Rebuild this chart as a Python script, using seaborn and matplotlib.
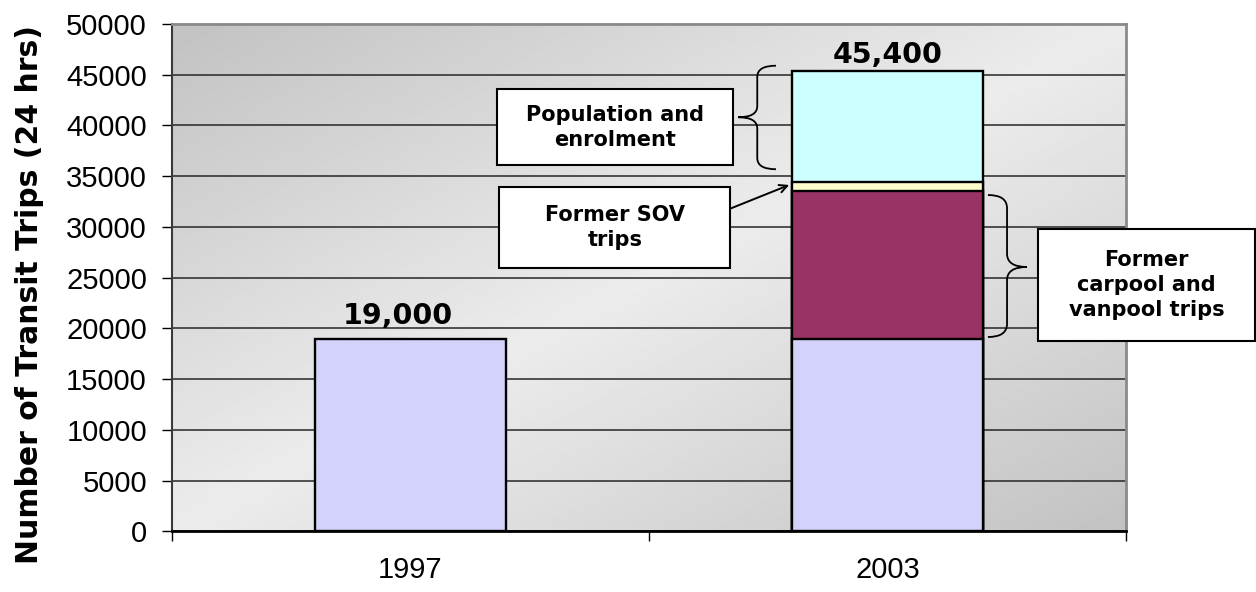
import numpy as np
import pandas as pd
import matplotlib
matplotlib.use("Agg")
import matplotlib.pyplot as plt
from matplotlib.path import Path
from matplotlib.patches import PathPatch, Rectangle
from matplotlib.ticker import FixedLocator
import seaborn as sns

# ---- data -------------------------------------------------------------
years = ["1997", "2003"]
base_trips = [19000, 19000]
carpool_vanpool = [0, 14500]
former_sov = [0, 900]
population_enrolment = [0, 11000]
y_ticks = list(range(0, 50001, 5000))

layer_values = [base_trips, carpool_vanpool, former_sov, population_enrolment]
layer_colors = ["#d2d2fa", "#993366", "#ffffcc", "#ccffff"]

# ---- style ------------------------------------------------------------
sns.set_style("white")
plt.rcParams["font.family"] = ["Liberation Sans", "DejaVu Sans"]
plt.rcParams.update({"text.color": "black", "axes.labelcolor": "black",
                     "xtick.color": "black", "ytick.color": "black"})
BOLD = ["DejaVu Sans"]

fig = plt.figure(figsize=(12.56, 5.92), dpi=100)
ax = fig.add_axes([0.1369, 0.1022, 0.7596, 0.8573])

# diagonal two-way grey gradient behind the plot
n = 400
u, v = np.meshgrid(np.linspace(0, 1, n), np.linspace(0, 1, n))
t = (u + v) / 2.0                      # 0 at top-left, 1 at bottom-right (image rows from top)
dark, light = 0.76, 0.925
shade = dark + (light - dark) * (1 - np.abs(2 * t - 1))
ax.imshow(shade, cmap="gray", vmin=0, vmax=1, extent=(-0.5, 1.5, 0, 50000),
          origin="upper", aspect="auto", interpolation="bilinear", zorder=-2)

# ---- stacked bars (cumulative tops, drawn from the top layer down) ----
cum = np.cumsum(np.array(layer_values), axis=0)
for k in reversed(range(len(layer_values))):
    keep = [i for i in range(len(years)) if k == 0 or layer_values[k][i] > 0]
    df = pd.DataFrame({"year": [years[i] for i in keep],
                       "trips": [cum[k][i] for i in keep]})
    sns.barplot(data=df, x="year", y="trips", order=years, color=layer_colors[k],
                saturation=1, width=0.4, edgecolor="black", linewidth=1.7,
                errorbar=None, ax=ax, zorder=2)

totals = cum[-1]
label_offsets = [(-9, 6.5), (0, 1)]
for i, tot in enumerate(totals):
    ax.annotate(f"{int(tot):,}", xy=(i, tot), xytext=label_offsets[i],
                textcoords="offset points", ha="center", va="bottom",
                fontsize=20.5, fontweight="bold", family=BOLD, color="black",
                zorder=6)

# ---- axes -------------------------------------------------------------
ax.set_xlim(-0.5, 1.5)
ax.set_ylim(0, 50000)
ax.set_yticks(y_ticks)
ax.set_yticklabels([str(t) for t in y_ticks])
ax.set_xticks([0, 1])
ax.set_xticklabels(years)
ax.xaxis.set_minor_locator(FixedLocator([-0.5, 0.5, 1.5]))
ax.set_xlabel("")
ax.set_ylabel("Number of Transit Trips (24 hrs)", fontsize=21.5, fontweight="bold",
              family=BOLD, color="black")
ax.yaxis.set_label_coords(-0.134, 0.466)

ax.set_axisbelow(True)
ax.yaxis.grid(True, color="#262626", linewidth=1.1)
ax.xaxis.grid(False)

ax.tick_params(axis="y", which="major", left=True, direction="out", length=7,
               width=1, color="black", labelcolor="black", labelsize=21, pad=11)
ax.tick_params(axis="x", which="major", bottom=True, length=0, labelsize=21,
               labelcolor="black", pad=18)
ax.tick_params(axis="x", which="minor", bottom=True, direction="out", length=7.5,
               width=1, color="black")

for side in ("top", "right"):
    ax.spines[side].set_color("#8a8a8a")
    ax.spines[side].set_linewidth(2)
ax.spines["left"].set_color("#3a3a3a")
ax.spines["left"].set_linewidth(1.5)
ax.spines["bottom"].set_color("black")
ax.spines["bottom"].set_linewidth(2)


# ---- callouts ---------------------------------------------------------
def brace(x_end, x_mid, x_tip, y_top, y_bot, y_tip, r):
    """Curly brace: x in axes fraction, y in data units."""
    verts = [(x_end, y_top), (x_mid, y_top), (x_mid, y_top - r),
             (x_mid, y_tip + r), (x_mid, y_tip), (x_tip, y_tip),
             (x_mid, y_tip), (x_mid, y_tip - r),
             (x_mid, y_bot + r), (x_mid, y_bot), (x_end, y_bot)]
    codes = [Path.MOVETO, Path.CURVE3, Path.CURVE3, Path.LINETO,
             Path.CURVE3, Path.CURVE3, Path.CURVE3, Path.CURVE3,
             Path.LINETO, Path.CURVE3, Path.CURVE3]
    ax.add_patch(PathPatch(Path(verts, codes), fc="none", ec="black", lw=1.3,
                           transform=ax.get_yaxis_transform(), clip_on=False,
                           zorder=5))


def text_box(x0, x1, y0, y1, text):
    ax.add_patch(Rectangle((x0, y0), x1 - x0, y1 - y0, transform=ax.transAxes,
                           fc="white", ec="black", lw=1.5, clip_on=False,
                           zorder=5))
    ax.text((x0 + x1) / 2, (y0 + y1) / 2, text, transform=ax.transAxes,
            ha="center", va="center", fontsize=15, fontweight="bold",
            family=BOLD, color="black", linespacing=1.3, zorder=6)


text_box(0.3404, 0.5884, 0.7216, 0.8719, "Population and\nenrolment")
text_box(0.3431, 0.5852, 0.5198, 0.6794, "Former SOV\ntrips")
text_box(0.9078, 1.1352, 0.3754, 0.5961, "Former\ncarpool and\nvanpool trips")

brace(0.6331, 0.6135, 0.5936, 45890, 35690, 40810, 1100)
brace(0.8553, 0.8753, 0.8962, 33150, 19160, 26060, 1300)

ax.annotate("", xy=(0.794, 34140), xytext=(0.672, 31840),
            arrowprops=dict(arrowstyle="->", color="black", lw=1.4,
                            shrinkA=0, shrinkB=0, mutation_scale=14),
            zorder=6)

fig.savefig("out.png", dpi=100, facecolor="white")
